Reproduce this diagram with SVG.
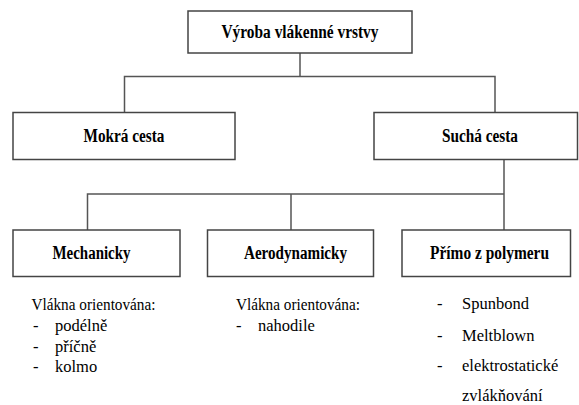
<svg xmlns="http://www.w3.org/2000/svg" width="579" height="405" viewBox="0 0 579 405">
<style>
.box{fill:#fff;stroke:#444;stroke-width:1.5}
.conn{fill:none;stroke:#555;stroke-width:1.5}
.lbl{font-weight:bold;font-size:18px;text-anchor:middle;fill:#000}
.txt{font-size:16.5px;fill:#000}
</style>
<g id="connectors">
<path class="conn" d="M300,53 V76.5 M124.5,112.5 V76.5 H495 V112.5"/>
<path class="conn" d="M504,160 V194 M87.5,230 V194 H504 V230 M291,194 V230"/>
</g>
<g font-family="Liberation Serif, serif">
<g id="n-root">
<rect class="box" x="188" y="11" width="224" height="42"/>
<text class="lbl" x="300" y="38" textLength="157" lengthAdjust="spacingAndGlyphs">Výroba vlákenné vrstvy</text>
</g>
<g id="n-mokra">
<rect class="box" x="13" y="112.5" width="222" height="47"/>
<text class="lbl" x="124" y="142" textLength="81" lengthAdjust="spacingAndGlyphs">Mokrá cesta</text>
</g>
<g id="n-sucha">
<rect class="box" x="374" y="112.5" width="203.5" height="47"/>
<text class="lbl" x="480" y="142" textLength="76" lengthAdjust="spacingAndGlyphs">Suchá cesta</text>
</g>
<g id="n-mech">
<rect class="box" x="13" y="230" width="167" height="46.5"/>
<text class="lbl" x="91.5" y="259" textLength="78" lengthAdjust="spacingAndGlyphs">Mechanicky</text>
</g>
<g id="n-aero">
<rect class="box" x="207.5" y="230" width="166" height="46.5"/>
<text class="lbl" x="295.5" y="259" textLength="103" lengthAdjust="spacingAndGlyphs">Aerodynamicky</text>
</g>
<g id="n-primo">
<rect class="box" x="402" y="230" width="168.5" height="46.5"/>
<text class="lbl" x="489.5" y="259" textLength="119" lengthAdjust="spacingAndGlyphs">Přímo z polymeru</text>
</g>
<g id="notes">
<text class="txt" x="31.5" y="309.5" textLength="124" lengthAdjust="spacingAndGlyphs">Vlákna orientována:</text>
<text class="txt" x="33" y="330.5">-</text><text class="txt" x="55" y="330.5">podélně</text>
<text class="txt" x="33" y="351.5">-</text><text class="txt" x="55" y="351.5">příčně</text>
<text class="txt" x="33" y="372">-</text><text class="txt" x="55" y="372">kolmo</text>
<text class="txt" x="236" y="309.5" textLength="124" lengthAdjust="spacingAndGlyphs">Vlákna orientována:</text>
<text class="txt" x="236" y="330.5">-</text><text class="txt" x="258" y="330.5">nahodile</text>
<text class="txt" x="437" y="309">-</text><text class="txt" x="462" y="309">Spunbond</text>
<text class="txt" x="437" y="340.5">-</text><text class="txt" x="462" y="340.5">Meltblown</text>
<text class="txt" x="437" y="371">-</text><text class="txt" x="462" y="371">elektrostatické</text>
<text class="txt" x="462" y="400.5">zvlákňování</text>
</g>
</g>
</svg>
